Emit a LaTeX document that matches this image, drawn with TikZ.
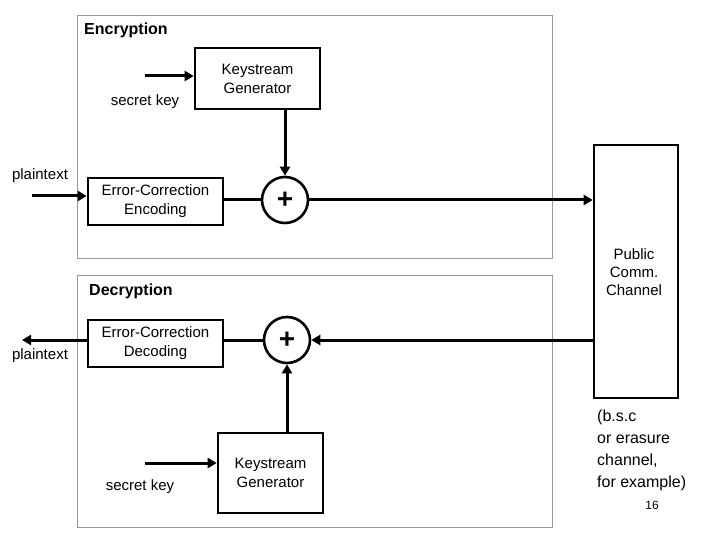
\documentclass[tikz,border=0pt]{standalone}
\usepackage{fontspec}
\setmainfont{Liberation Sans}
\usetikzlibrary{arrows.meta}
\begin{document}
\begin{tikzpicture}[x=1pt,y=-1pt,
  frame/.style={draw=gray!80,line width=0.8pt},
  blk/.style={draw,line width=2.6pt,align=center,font=\fontsize{15}{19}\selectfont,inner sep=0pt},
  sum/.style={draw,circle,line width=2.6pt,minimum size=46pt,inner sep=0pt,font=\bfseries\fontsize{28}{28}\selectfont},
  arr/.style={line width=3pt,-{Triangle[length=9pt,width=10pt]}},
  lbl/.style={font=\fontsize{15}{18}\selectfont,inner sep=0pt}]
\useasboundingbox (0,0) rectangle (720,540);
\node[frame,minimum width=475pt,minimum height=243pt,inner sep=0pt] (enc) at (314.5,136.5) {};
\node[frame,minimum width=475pt,minimum height=252pt,inner sep=0pt] (dec) at (314.5,401) {};
\node[lbl,font=\bfseries\fontsize{16}{19}\selectfont,anchor=west] (enct) at (84,30) {Encryption};
\node[lbl,font=\bfseries\fontsize{16}{19}\selectfont,anchor=west] (dect) at (89,291) {Decryption};
\node[blk,minimum width=125pt,minimum height=61pt] (kg1) at (257.5,78.5) {Keystream\\Generator};
\node[blk,minimum width=135pt,minimum height=47pt] (ece) at (155.5,201.5) {Error-Correction\\Encoding};
\node[sum] (s1) at (285,200) {+};
\node[blk,minimum width=84pt,minimum height=253pt] (ch) at (636,271.5) {};
\node[lbl,align=center] (cht) at (634,272) {Public\\Comm.\\Channel};
\node[blk,minimum width=135pt,minimum height=47pt] (ecd) at (155.5,343.5) {Error-Correction\\Decoding};
\node[sum] (s2) at (287,340) {+};
\node[blk,minimum width=105pt,minimum height=80pt] (kg2) at (270.5,473) {Keystream\\Generator};
\node[lbl] (sk1) at (145,102) {secret key};
\node[lbl] (sk2) at (140,487) {secret key};
\node[lbl] (pt1) at (40,176) {plaintext};
\node[lbl] (pt2) at (40,356) {plaintext};
\node[lbl,font=\fontsize{16}{22}\selectfont,align=left,anchor=north west] (note) at (597,410) {(b.s.c\\or erasure\\channel,\\for example)};
\node[font=\rmfamily\fontsize{12}{14}\selectfont] (pg) at (652,505) {16};
\coordinate (a1) at (145,76); \coordinate (a2) at (145,463);
\coordinate (p1) at (32,196); \coordinate (p2) at (22,340);
\draw[arr] (a1) -- (kg1.west|-a1);
\draw[arr] (a2) -- (kg2.west|-a2);
\draw[arr] (p1) -- (ece.west|-p1);
\draw[line width=3pt] (ece.east|-s1) -- (s1.west);
\draw[arr] (kg1.south-|s1) -- (s1.north);
\draw[arr] (s1.east) -- (ch.west|-s1);
\draw[arr] (ch.west|-s2) -- (s2.east);
\draw[line width=3pt] (s2.west) -- (ecd.east|-s2);
\draw[arr] (ecd.west|-s2) -- (p2);
\draw[arr] (kg2.north-|s2) -- (s2.south);
\end{tikzpicture}
\end{document}
